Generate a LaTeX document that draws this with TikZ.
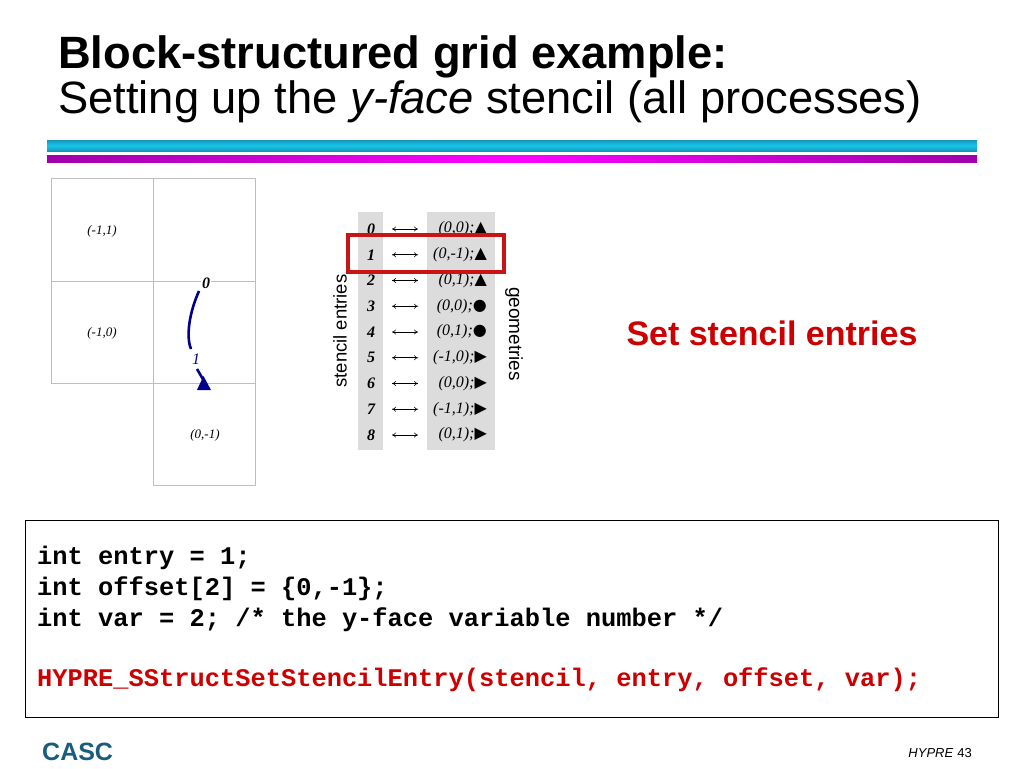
\documentclass[tikz,border=0pt]{standalone}
\usepackage{fontspec}
\setmainfont{Liberation Serif}
\newfontfamily\arial{Liberation Sans}
\newfontfamily\cour{Liberation Mono}
\newfontfamily\djv{DejaVu Sans}
\usetikzlibrary{arrows.meta}
\definecolor{gridgray}{RGB}{190,190,190}
\definecolor{colgray}{RGB}{220,220,220}
\definecolor{boxred}{RGB}{200,20,20}
\definecolor{textred}{RGB}{204,0,0}
\definecolor{navy}{RGB}{0,0,140}
\definecolor{cyanA}{RGB}{22,150,182}
\definecolor{cyanB}{RGB}{22,200,236}
\definecolor{purpA}{RGB}{160,0,170}
\definecolor{purpB}{RGB}{255,0,255}
\definecolor{cascblue}{RGB}{24,92,128}
\newcommand{\fs}[1]{\fontsize{#1}{#1}\selectfont}
\tikzset{
  cell/.style={draw=gridgray, line width=0.8pt},
  cellt/.style={font=\fs{13}\itshape, inner sep=0pt},
  entry/.style={font=\fs{16}\bfseries\itshape, inner sep=0pt},
  geom/.style={font=\fs{16}\itshape, inner sep=0pt, anchor=east},
  lr/.style={{To[length=4pt,width=5pt]}-{To[length=4pt,width=5pt]}, line width=0.6pt},
  code/.style={font=\fs{25.4}\cour\bfseries, anchor=base west, inner sep=0pt},
}
\begin{document}
\begin{tikzpicture}[x=1pt,y=-1pt]
\useasboundingbox (0,0) rectangle (1024,768);
% title
\node[anchor=base west, inner sep=0pt, font=\fs{45.3}\arial\bfseries] (t1) at (58,68) {Block-structured grid example:};
\node[anchor=base west, inner sep=0pt, font=\fs{45.3}\arial] (t2) at (58,113) {Setting up the \textit{y-face} stencil (all processes)};
% bars
\shade[top color=cyanA, bottom color=cyanA, middle color=cyanB] (47,140) rectangle (977,151);
\shade[left color=purpA, right color=purpA, middle color=purpB] (47,155) rectangle (977,162);
% grid
\draw[cell] (51,178) rectangle (153,281);
\draw[cell] (51,281) rectangle (153,383);
\draw[cell] (153,178) rectangle (255,281);
\draw[cell] (153,281) rectangle (255,383);
\draw[cell] (153,383) rectangle (255,485);
\node[cellt] (c1) at (102,231) {(-1,1)};
\node[cellt] (c2) at (102,333) {(-1,0)};
\node[cellt] (c3) at (205,435) {(0,-1)};
% stencil arrow
\node[entry, fill=white, inner sep=1pt] (s0) at (206,283) {0};
\fill[navy] (203.5,376) -- (211,390) -- (197,390) -- cycle;
\coordinate (tri) at (204,381);
\draw[navy, line width=2.6pt] (199,291) .. controls (187,318) and (187,340) .. (191,349);
\node[font=\fs{16}\itshape, text=navy, fill=white, inner sep=0.5pt] (s1) at (196,359) {1};
\draw[navy, line width=2.6pt] (197,369) -- (tri);
% table columns
\fill[colgray] (358,212) rectangle (383,450);
\fill[colgray] (427,212) rectangle (495,450);
\foreach \i/\g/\m in {0/{(0,0);}/▲,1/{(0,-1);}/▲,2/{(0,1);}/▲,3/{(0,0);}/●,4/{(0,1);}/●,5/{(-1,0);}/▶,6/{(0,0);}/▶,7/{(-1,1);}/▶,8/{(0,1);}/▶}{
  \pgfmathsetmacro{\yy}{229+25.75*\i}
  \node[entry] (e\i) at (371,\yy) {\i};
  \node[geom] (g\i) at (487,\yy) {\g{\djv\fs{16}\m}};
  \coordinate (la\i) at (392,\yy);
  \coordinate (lb\i) at (418,\yy);
  \draw[lr] (la\i) -- (lb\i);
}
\draw[boxred, line width=3.4pt] (348,235) rectangle (504,272);
\node[rotate=90, font=\fs{18.5}\arial, inner sep=0pt] (se) at (340,331) {stencil entries};
\node[rotate=-90, font=\fs{19}\arial, inner sep=0pt] (ge) at (514,334) {geometries};
% big label
\node[anchor=base, inner sep=0pt, font=\fs{34}\arial\bfseries, text=textred] (set) at (772,345) {Set stencil entries};
% code box
\draw[black, line width=1pt] (25,520) rectangle (998,717);
\node[code] (l1) at (37,564) {int entry = 1;};
\node[code] (l2) at (37,595) {int offset[2] = \{0,-1\};};
\node[code] (l3) at (37,626) {int var = 2; /* the y-face variable number */};
\node[code, text=textred] (l4) at (37,686) {HYPRE\_SStructSetStencilEntry(stencil, entry, offset, var);};
% footer
\node[anchor=base west, inner sep=0pt, font=\fs{25}\arial\bfseries, text=cascblue] (casc) at (42,760) {CASC};
\node[anchor=base east, inner sep=0pt, font=\fs{13}\arial] (hy) at (972,757) {\textit{HYPRE}\hspace{4pt}43};
\end{tikzpicture}
\end{document}
